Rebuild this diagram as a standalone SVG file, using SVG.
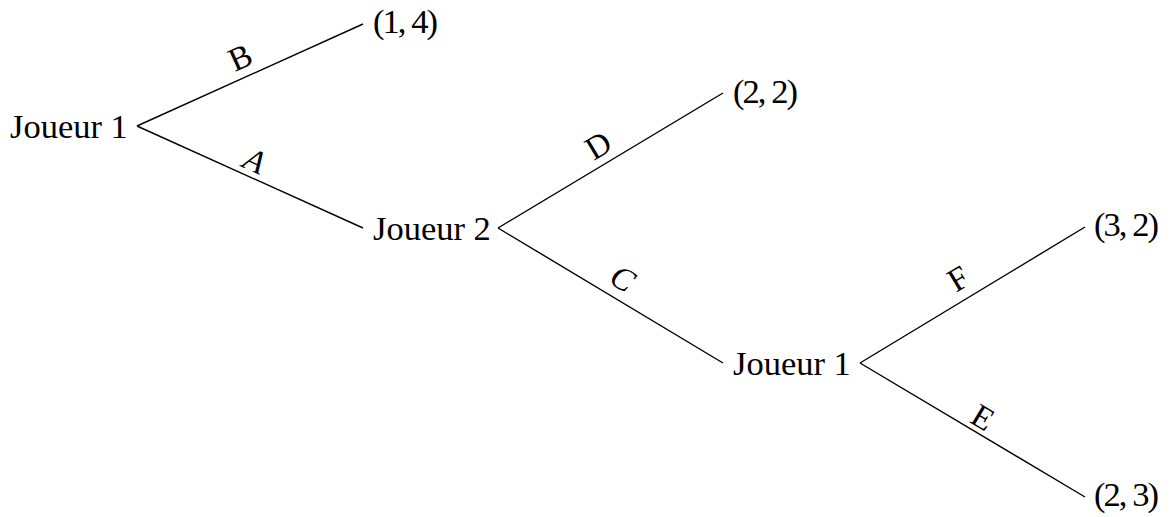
<svg xmlns="http://www.w3.org/2000/svg" width="1170" height="517" viewBox="0 0 1170 517">
<style>
.n{font-family:"Liberation Serif","Times New Roman",serif;font-size:34.5px;fill:#000}
.l{font-family:"Liberation Serif","Times New Roman",serif;font-size:33px;fill:#000;text-anchor:middle}
.i{font-style:italic}
.e{stroke:#000;stroke-width:1.4;fill:none}
</style>
<rect width="1170" height="517" fill="#fff"/>
<g id="connectors">
<line class="e" x1="137" y1="126" x2="363" y2="24"/>
<line class="e" x1="137" y1="126" x2="363" y2="228"/>
<line class="e" x1="498" y1="228" x2="723" y2="93"/>
<line class="e" x1="498" y1="228" x2="723" y2="363"/>
<line class="e" x1="860" y1="363" x2="1085" y2="227"/>
<line class="e" x1="860" y1="363" x2="1085" y2="497"/>
<text class="l" transform="translate(240,57) rotate(-24.3)" dy="0.35em">B</text>
<text class="l i" transform="translate(255,160) rotate(24.3)" dy="0.35em">A</text>
<text class="l" transform="translate(598,145) rotate(-31)" dy="0.35em">D</text>
<text class="l i" transform="translate(623,278) rotate(31)" dy="0.35em">C</text>
<text class="l" transform="translate(958,278) rotate(-31)" dy="0.35em">F</text>
<text class="l" transform="translate(983,417) rotate(31)" dy="0.35em">E</text>
</g>
<g id="n1"><text class="n" x="10" y="138">Joueur 1</text></g>
<g id="n14"><text class="n" x="373" y="33" textLength="65" lengthAdjust="spacing">(1, 4)</text></g>
<g id="n2"><text class="n" x="373" y="240">Joueur 2</text></g>
<g id="n22"><text class="n" x="733" y="103" textLength="65" lengthAdjust="spacing">(2, 2)</text></g>
<g id="n3"><text class="n" x="733" y="375">Joueur 1</text></g>
<g id="n32"><text class="n" x="1094" y="236" textLength="65" lengthAdjust="spacing">(3, 2)</text></g>
<g id="n23"><text class="n" x="1094" y="506" textLength="65" lengthAdjust="spacing">(2, 3)</text></g>
</svg>
